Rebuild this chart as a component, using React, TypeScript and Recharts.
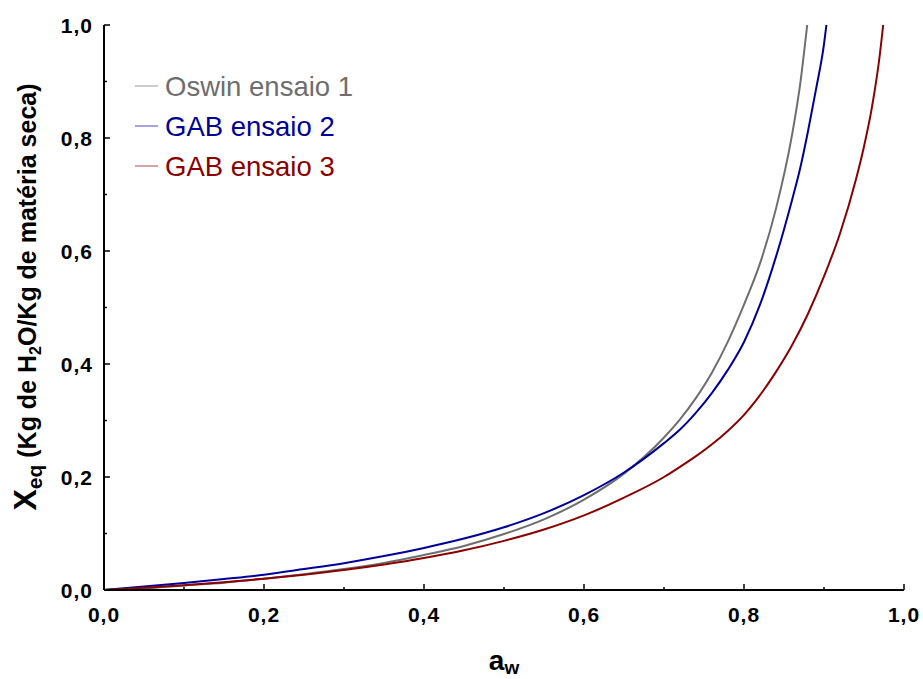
import { LineChart, Line, XAxis, YAxis, Legend } from 'recharts';

// water activity (aw) and equilibrium moisture (Xeq)
const awOswin1 = [0, 0.05, 0.1, 0.15, 0.2, 0.25, 0.3, 0.35, 0.4, 0.45, 0.5, 0.55, 0.6, 0.65, 0.7, 0.72, 0.74, 0.76, 0.78, 0.8, 0.82, 0.84, 0.86, 0.87, 0.879];
const xeqOswin1 = [0, 0.003, 0.008, 0.013, 0.02, 0.028, 0.037, 0.048, 0.062, 0.078, 0.099, 0.125, 0.16, 0.206, 0.27, 0.302, 0.34, 0.385, 0.44, 0.505, 0.578, 0.675, 0.805, 0.893, 1.0];

const awGab2 = [0, 0.05, 0.1, 0.15, 0.2, 0.25, 0.3, 0.35, 0.4, 0.45, 0.5, 0.55, 0.6, 0.65, 0.7, 0.72, 0.74, 0.76, 0.78, 0.8, 0.82, 0.84, 0.86, 0.87, 0.88, 0.89, 0.9, 0.903];
const xeqGab2 = [0, 0.006, 0.0125, 0.0195, 0.027, 0.037, 0.0475, 0.06, 0.0745, 0.091, 0.111, 0.136, 0.168, 0.208, 0.26, 0.284, 0.314, 0.349, 0.39, 0.439, 0.505, 0.59, 0.69, 0.745, 0.812, 0.886, 0.966, 1.0];

const awGab3 = [0, 0.05, 0.1, 0.15, 0.2, 0.25, 0.3, 0.35, 0.4, 0.45, 0.5, 0.55, 0.6, 0.65, 0.7, 0.72, 0.74, 0.76, 0.78, 0.8, 0.82, 0.84, 0.86, 0.88, 0.9, 0.92, 0.94, 0.95, 0.96, 0.97, 0.974];
const xeqGab3 = [0, 0.004, 0.0085, 0.0138, 0.02, 0.027, 0.0352, 0.045, 0.0565, 0.0703, 0.087, 0.107, 0.132, 0.1635, 0.2, 0.218, 0.237, 0.258, 0.282, 0.31, 0.345, 0.386, 0.433, 0.489, 0.555, 0.631, 0.727, 0.785, 0.855, 0.95, 1.0];

const axisTicks = [0, 0.1, 0.2, 0.3, 0.4, 0.5, 0.6, 0.7, 0.8, 0.9, 1.0];
const legendOrder = ['Oswin ensaio 1', 'GAB ensaio 2', 'GAB ensaio 3'];

const zip = (aw: number[], xeq: number[]) => aw.map((a, i) => ({ aw: a, xeq: xeq[i] }));

const FONT = '"Liberation Sans", Arial, Helvetica, sans-serif';

const fmt = (v: number) => v.toFixed(1).replace('.', ',');
const isMajor = (v: number) => Math.round(v * 10) % 2 === 0;

const XTick = (props: any) => {
  const { x, y, payload } = props;
  const major = isMajor(payload.value);
  return (
    <g>
      <line x1={x} y1={y} x2={x} y2={y - (major ? 6 : 3)} stroke="#000" strokeWidth={1.5} />
      {major && (
        <text x={x} y={y + 32} textAnchor="middle" fontFamily={FONT} fontWeight="bold" fontSize={21} letterSpacing={1} fill="#000">
          {fmt(payload.value)}
        </text>
      )}
    </g>
  );
};

const YTick = (props: any) => {
  const { x, y, payload } = props;
  const major = isMajor(payload.value);
  return (
    <g>
      <line x1={x} y1={y} x2={x + (major ? 6 : 3)} y2={y} stroke="#000" strokeWidth={1.5} />
      {major && (
        <text x={x - 11} y={y + 7.5} textAnchor="end" fontFamily={FONT} fontWeight="bold" fontSize={21} letterSpacing={1} fill="#000">
          {fmt(payload.value)}
        </text>
      )}
    </g>
  );
};

const renderLegend = (props: any) => {
  const items = [...(props.payload || [])].sort(
    (a: any, b: any) => legendOrder.indexOf(a.value) - legendOrder.indexOf(b.value)
  );
  return (
    <div style={{ fontFamily: FONT }}>
      {items.map((entry: any) => (
        <div key={entry.value} style={{ display: 'flex', alignItems: 'center', height: 40 }}>
          <svg width={30} height={40}>
            <line x1={3} y1={19} x2={26} y2={19} stroke={entry.color} strokeWidth={1} opacity={0.7} />
          </svg>
          <span style={{ color: entry.color, fontSize: 27.5, lineHeight: '40px', marginLeft: 3 }}>{entry.value}</span>
        </div>
      ))}
    </div>
  );
};

export default function App() {
  return (
    <div style={{ position: 'absolute', left: 0, top: 0, background: '#fff' }}>
      <LineChart width={923} height={679} margin={{ top: 25, right: 19, bottom: 0, left: 0 }}>
        <XAxis
          type="number"
          dataKey="aw"
          domain={[0, 1]}
          ticks={axisTicks}
          interval={0}
          height={89}
          tickSize={0}
          tickMargin={0}
          tick={<XTick />}
          axisLine={{ stroke: '#000', strokeWidth: 2 }}
          tickLine={false}
          allowDuplicatedCategory={false}
        />
        <YAxis
          type="number"
          dataKey="xeq"
          domain={[0, 1]}
          ticks={axisTicks}
          interval={0}
          width={104}
          tickSize={0}
          tickMargin={0}
          tick={<YTick />}
          axisLine={{ stroke: '#000', strokeWidth: 2 }}
          tickLine={false}
        />
        <Legend
          layout="vertical"
          verticalAlign="middle"
          align="center"
          wrapperStyle={{ left: 132, top: 67, width: 280 }}
          content={renderLegend}
        />
        <Line data={zip(awOswin1, xeqOswin1)} dataKey="xeq" name="Oswin ensaio 1" type="monotone" stroke="#6e6e6e" strokeWidth={2} dot={false} isAnimationActive={false} />
        <Line data={zip(awGab2, xeqGab2)} dataKey="xeq" name="GAB ensaio 2" type="monotone" stroke="#000099" strokeWidth={2} dot={false} isAnimationActive={false} />
        <Line data={zip(awGab3, xeqGab3)} dataKey="xeq" name="GAB ensaio 3" type="monotone" stroke="#8b0000" strokeWidth={2} dot={false} isAnimationActive={false} />
        <text x={504} y={670} textAnchor="middle" fontFamily={FONT} fontWeight="bold" fill="#000">
          <tspan fontSize={28}>a</tspan>
          <tspan fontSize={19} dy={4}>w</tspan>
        </text>
        <text transform="translate(36, 297) rotate(-90)" textAnchor="middle" fontFamily={FONT} fontWeight="bold" fill="#000">
          <tspan fontSize={32}>X</tspan>
          <tspan fontSize={21} dy={6}>eq</tspan>
          <tspan fontSize={25} dy={-6}> (Kg de H</tspan>
          <tspan fontSize={16} dy={5}>2</tspan>
          <tspan fontSize={25} dy={-5}>O/Kg de matéria seca)</tspan>
        </text>
      </LineChart>
    </div>
  );
}
